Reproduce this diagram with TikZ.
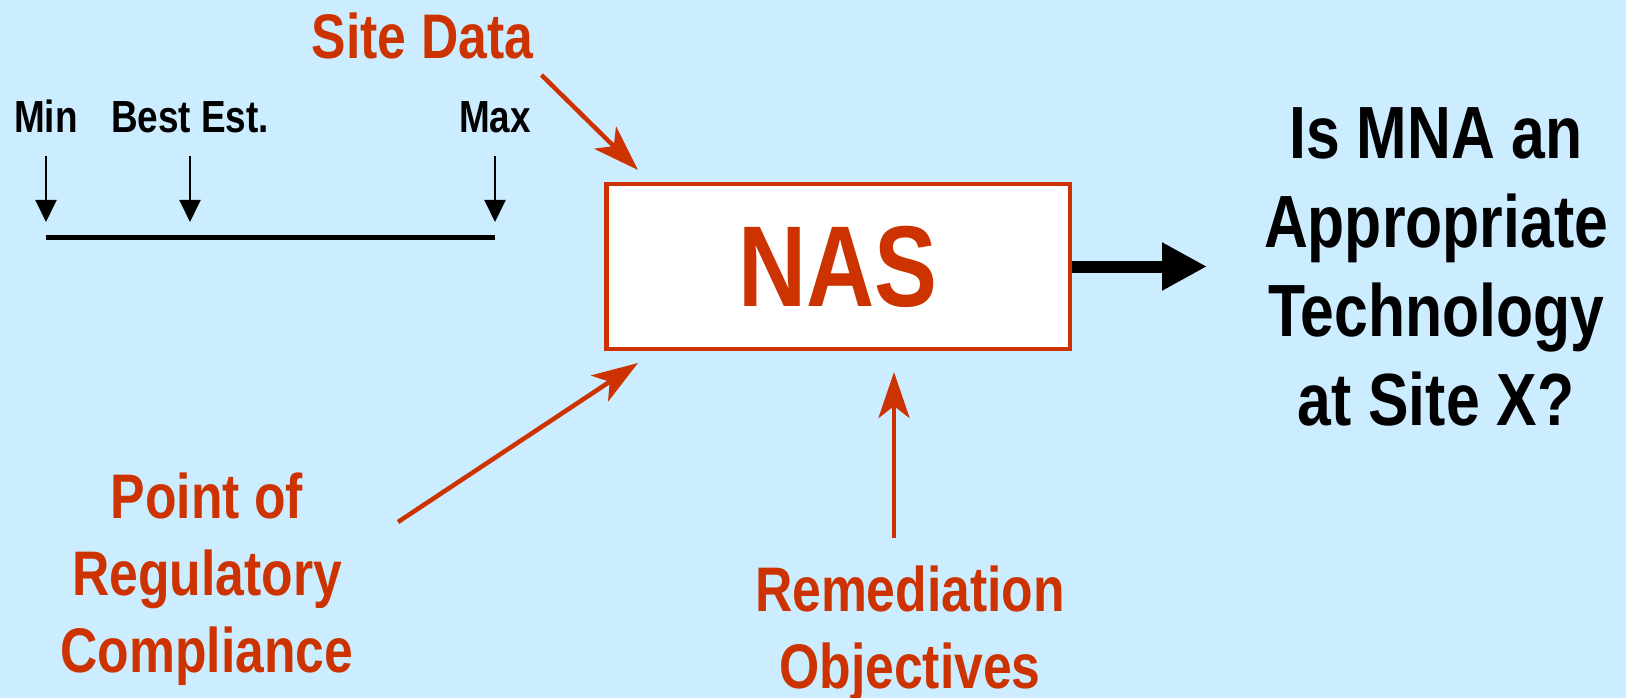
\documentclass[tikz,border=0pt]{standalone}
\usepackage{fontspec}
\usepackage{tikz}
\usetikzlibrary{arrows.meta,positioning}
\newfontfamily\narrowsans{Liberation Sans}[FakeStretch=0.82]
\definecolor{sky}{RGB}{204,236,255}
\definecolor{brick}{RGB}{204,51,0}

\begin{document}
\begin{tikzpicture}[x=1pt,y=-1pt,
  redlab/.style={text=brick,font=\narrowsans\bfseries\fontsize{63}{77}\selectfont,
    align=center,inner sep=0pt,anchor=base},
  blacklab/.style={font=\narrowsans\bfseries\fontsize{74}{89}\selectfont,
    align=center,inner sep=0pt,anchor=base},
  ticklab/.style={font=\narrowsans\bfseries\fontsize{45}{54}\selectfont,
    inner sep=0pt,anchor=base},
  redarrow/.style={draw=brick,line width=4.5pt,-{Stealth[length=46pt,width=31pt,inset=12pt]}},
  tickarrow/.style={line width=2pt,-{Triangle[length=22pt,width=21pt]}}]
\fill[sky] (0,0) rectangle (1626,698);%背景
\useasboundingbox (0,0) rectangle (1626,698);
% 目盛り
\foreach \x/\lab [count=\i] in {46/Min, 190/Best Est., 495/Max}
  {
   \node[ticklab] (tick\i) at (\x,133) {\lab};
   \coordinate (top\i) at (\x,156);
   \coordinate (tip\i) at (\x,222);
   \draw[tickarrow] (top\i) -- (tip\i);
  }
\coordinate (lo) at (46,237);
\coordinate (hi) at (495,237);
\draw[line width=5pt] (lo) -- (hi);%範囲の線
% NASの箱
\node[draw=brick,fill=white,line width=4.5pt,minimum width=463.5pt,minimum height=164.5pt,
  text=brick,font=\narrowsans\bfseries\fontsize{115}{130}\selectfont] (nas) at (838,266.5) {NAS};
\node[redlab] (site) at (422.5,59) {Site Data};
\node[redlab] (point) at (207,672) {Point of\\Regulatory\\Compliance};
\node[redlab] (remed) at (910,688) {Remediation\\Objectives};
\node[blacklab] (ask) at (1436,425) {Is MNA an\\Appropriate\\Technology\\at Site X?};
\coordinate (siteA) at (541.5,75);
\coordinate (siteB) at (638,170);
\coordinate (pointA) at (398,522);
\coordinate (pointB) at (638,363);
\coordinate (remedA) at (894,538);
\coordinate (remedB) at (894,372);
\coordinate (out) at (1207,266.5);
\draw[redarrow] (siteA) -- (siteB);
\draw[redarrow] (pointA) -- (pointB);
\draw[redarrow] (remedA) -- (remedB);
\draw[line width=12pt,-{Triangle[length=45pt,width=45pt]}] (nas.east) -- (out);%結論への矢印
\end{tikzpicture}
\end{document}
